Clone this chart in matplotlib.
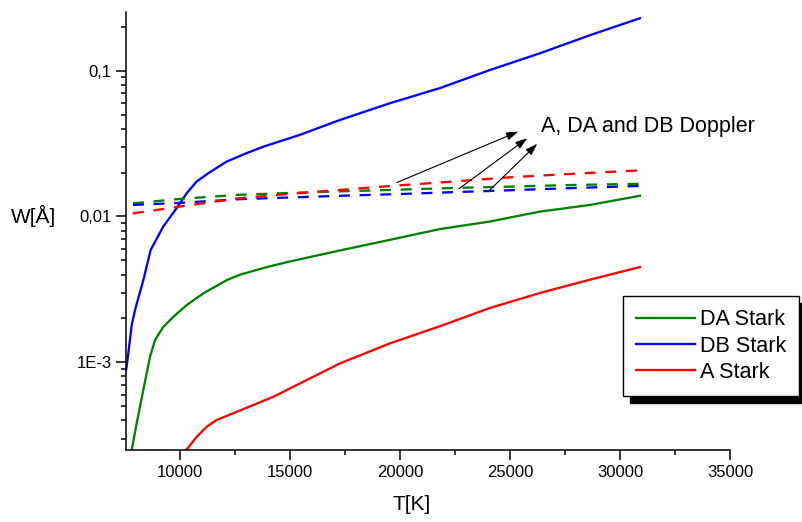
import matplotlib
matplotlib.use("Agg")
import matplotlib.pyplot as plt
from matplotlib.ticker import FixedLocator, FixedFormatter, LogLocator, NullFormatter, MultipleLocator

plt.rcParams['font.family'] = ['Liberation Sans', 'DejaVu Sans']

# ---- data ----
T_db = [7545, 7600, 7804, 7954, 8331, 8668, 9240, 9849, 10304, 10758, 11286, 12122,
        13031, 13785, 15454, 17272, 19545, 21816, 24090, 26360, 28636, 30907]
W_db = [8.8e-4, 1.0e-3, 1.8e-3, 2.28e-3, 3.66e-3, 5.91e-3, 8.54e-3, 0.01142, 0.01445,
        0.01738, 0.0198, 0.0238, 0.0272, 0.0301, 0.0363, 0.0459, 0.0598, 0.0759,
        0.101, 0.1315, 0.175, 0.2286]

T_da = [7790, 8031, 8331, 8636, 8863, 9240, 9695, 10304, 11058, 12122, 12727, 13950,
        15000, 17272, 19545, 21816, 24090, 26360, 28636, 30907]
W_da = [2.45e-4, 3.82e-4, 6.46e-4, 1.092e-3, 1.42e-3, 1.75e-3, 2.05e-3, 2.47e-3,
        2.97e-3, 3.66e-3, 3.99e-3, 4.5e-3, 4.92e-3, 5.85e-3, 6.92e-3, 8.2e-3,
        9.24e-3, 0.0108, 0.012, 0.01387]

T_a = [10280, 10758, 11213, 11667, 12422, 13331, 14240, 15454, 17272, 19545, 21816,
       24090, 26360, 28636, 30907]
W_a = [2.5e-4, 3.09e-4, 3.62e-4, 4.03e-4, 4.48e-4, 5.1e-4, 5.81e-4, 7.18e-4, 9.84e-4,
       1.35e-3, 1.77e-3, 2.36e-3, 2.99e-3, 3.69e-3, 4.5e-3]

T_dop = [7860, 10000, 12730, 15000, 17500, 19850, 22500, 24850, 27500, 30900]
W_a_dop = [0.0105, 0.0117, 0.01337, 0.0143, 0.0153, 0.0163, 0.0174, 0.0185, 0.0195, 0.0207]
W_da_dop = [0.0123, 0.0132, 0.0141, 0.0145, 0.0149, 0.01525, 0.0157, 0.0160, 0.0164, 0.01675]
W_db_dop = [0.0120, 0.0124, 0.01315, 0.0135, 0.0139, 0.01423, 0.0147, 0.0151, 0.0156, 0.0162]

arrow_tails = [(19862, 0.0171), (22680, 0.01549), (24000, 0.01476)]
arrow_tips = [(25376, 0.0382), (25785, 0.0344), (26240, 0.0315)]
note_text = "A, DA and DB Doppler"
note_pos = (26407, 0.0411)

y_ticks = [1e-3, 1e-2, 1e-1]
y_ticklabels = ["1E-3", "0,01", "0,1"]
x_ticks = [10000, 15000, 20000, 25000, 30000, 35000]

GREEN = "#008000"
BLUE = "#0000ff"
RED = "#ff0000"

fig = plt.figure(figsize=(8.03, 5.22), dpi=100)
ax = fig.add_axes([126/803, 72/522, 604/803, 438/522])

lw = 1.65
ax.plot(T_da, W_da, color=GREEN, lw=lw, label="DA Stark")
ax.plot(T_db, W_db, color=BLUE, lw=lw, label="DB Stark")
ax.plot(T_a, W_a, color=RED, lw=lw, label="A Stark")
dash = (4.8, 4.2)
ax.plot(T_dop, W_da_dop, color=GREEN, lw=lw, dashes=dash)
ax.plot(T_dop, W_db_dop, color=BLUE, lw=lw, dashes=dash)
ax.plot(T_dop, W_a_dop, color=RED, lw=lw, dashes=dash)

ax.set_yscale('log')
ax.set_xlim(7545, 35000)
ax.set_ylim(2.507e-4, 0.2523)

ax.yaxis.set_major_locator(FixedLocator(y_ticks))
ax.yaxis.set_major_formatter(FixedFormatter(y_ticklabels))
ax.yaxis.set_minor_locator(LogLocator(base=10, subs=[2, 3, 4, 5, 6, 7, 8, 9], numticks=20))
ax.yaxis.set_minor_formatter(NullFormatter())
ax.xaxis.set_major_locator(FixedLocator(x_ticks))
ax.xaxis.set_minor_locator(MultipleLocator(2500))

for s in ['top', 'right']:
    ax.spines[s].set_visible(False)
for s in ['left', 'bottom']:
    ax.spines[s].set_linewidth(1.1)

ax.tick_params(which='major', direction='out', length=7.5, width=1.1, labelsize=12, pad=3)
ax.tick_params(which='minor', direction='out', length=3.5, width=1.1)

for (tx, ty), (hx, hy) in zip(arrow_tails, arrow_tips):
    ax.annotate('', xy=(hx, hy), xytext=(tx, ty),
                arrowprops=dict(arrowstyle='-|>,head_length=0.6,head_width=0.2',
                                mutation_scale=12, lw=0.8, color='k',
                                shrinkA=0, shrinkB=0))
ax.text(note_pos[0], note_pos[1], note_text, fontsize=15.5, ha='left', va='center')

fig.text(34/803, 1 - 216/522, "W[Å]", fontsize=15, ha='center', va='center')
fig.text(412/803, 1 - 505/522, "T[K]", fontsize=15, ha='center', va='center')

leg = ax.legend(loc='upper left',
                bbox_to_anchor=(623/803, (522 - 396)/522, 176/803, 100/522),
                bbox_transform=fig.transFigure, mode='expand', fontsize=15.6, frameon=True,
                fancybox=False, handlelength=2.7, handletextpad=0.25,
                borderpad=0.62, labelspacing=0.24, borderaxespad=0,
                shadow={'ox': 5, 'oy': -5, 'facecolor': 'k', 'edgecolor': 'k', 'alpha': 1})
leg.get_frame().set_edgecolor('k')
leg.get_frame().set_linewidth(1.0)
for h in leg.get_lines():
    h.set_linewidth(lw)

fig.savefig("out.png", dpi=100)
